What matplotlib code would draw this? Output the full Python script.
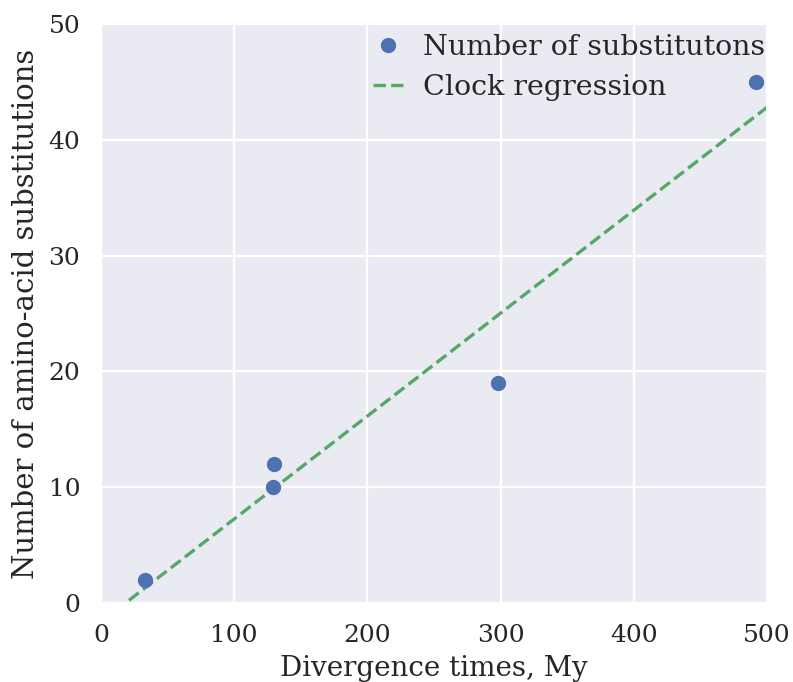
import numpy as np
import matplotlib
matplotlib.use("Agg")
import matplotlib.pyplot as plt
import seaborn as sns

div_times = [33, 129, 130, 298, 492]
substitutions = [2, 10, 12, 19, 45]
x_ticks = [0, 100, 200, 300, 400, 500]
y_ticks = [0, 10, 20, 30, 40, 50]

sns.set_theme(style="darkgrid")
plt.rcParams['font.family'] = ['DejaVu Serif']
plt.rcParams['grid.linewidth'] = 1.6

fig = plt.figure(figsize=(7.93, 6.82), dpi=100)
ax = fig.add_axes([101/793, 1-603/682, (767-101)/793, (603-24)/682])

ax.plot(div_times, substitutions, 'o', color='#4c72b0', markersize=10,
        label='Number of substitutons', zorder=3)
slope, intercept = np.polyfit(div_times, substitutions, 1)
xl = np.array([0, 500])
ax.plot(xl, slope * xl + intercept, '--', color='#55a868', lw=2.4,
        label='Clock regression', zorder=2)

ax.set_xlim(0, 500)
ax.set_ylim(0, 50)
ax.set_xticks(x_ticks)
ax.set_yticks(y_ticks)
ax.tick_params(labelsize=18, pad=9)
ax.set_xlabel('Divergence times, My', fontsize=20, labelpad=6)
ax.set_ylabel('Number of amino-acid substitutions', fontsize=21, labelpad=6)
ax.legend(loc='upper right', bbox_to_anchor=(1.003, 0.99), fontsize=20.5,
          frameon=False, borderaxespad=0.0, borderpad=0.15, handlelength=1.1,
          handletextpad=0.65, numpoints=1, labelspacing=0.45)

fig.savefig('out.png', dpi=100)
